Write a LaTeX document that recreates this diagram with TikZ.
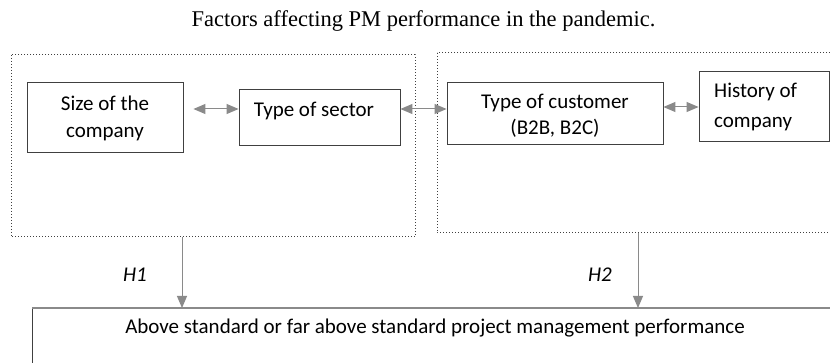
\documentclass[tikz,border=0pt]{standalone}
\usepackage{fontspec}
\setmainfont{Carlito}
\newfontfamily\titlefont{Liberation Serif}
\usetikzlibrary{arrows.meta}
\definecolor{boxline}{HTML}{404040}
\definecolor{arrgray}{HTML}{8A8A8A}
\tikzset{
  solidbox/.style={draw=boxline, line width=0.9pt, inner sep=0pt},
  groupbox/.style={draw=boxline, dotted, line width=1pt, inner sep=0pt},
  lbl/.style={font=\fontsize{21}{26}\selectfont, inner sep=0pt, align=center},
  conn/.style={draw=arrgray, line width=1pt, -{Triangle[length=12pt,width=10pt]}},
  bicon/.style={draw=arrgray, line width=1pt, {Triangle[length=12pt,width=10pt]}-{Triangle[length=12pt,width=10pt]}},
  hlbl/.style={font=\fontsize{21}{24}\selectfont\itshape, inner sep=0pt}
}
\begin{document}
\begin{tikzpicture}[x=1pt,y=-1pt]
\useasboundingbox (0,0) rectangle (830,363);
\clip (0,0) rectangle (830,363);
\fill[white] (0,0) rectangle (830,363);
% title
\node[font=\titlefont\fontsize{22.5}{26}\selectfont, inner sep=0pt, anchor=base] (title) at (423.5,27) {Factors affecting PM performance in the pandemic.};
% group boxes
\draw[groupbox] (11,55) rectangle (415,237);
\draw[groupbox] (437,53) rectangle (845,233);
\coordinate (g1b) at (182,237);
\coordinate (g2b) at (638,233);
% boxes
\node[solidbox, minimum width=156pt, minimum height=70pt] (size) at (105,117) {};
\node[lbl, font=\fontsize{21}{27}\selectfont] (sizet) at (105,118) {Size of the\\company};
\node[solidbox, minimum width=161pt, minimum height=56pt] (sector) at (319.5,117) {};
\node[lbl] (sectort) at (314,111) {Type of sector};
\node[solidbox, minimum width=216pt, minimum height=62pt] (cust) at (555,113) {};
\node[lbl] (custt) at (555,116) {Type of customer\\(B2B, B2C)};
\node[solidbox, minimum width=130pt, minimum height=70pt] (hist) at (764,106) {};
\node[lbl, align=left, anchor=west, font=\fontsize{21}{30}\selectfont] (histt) at (714,107) {History of\\company};
% bottom box
\draw[boxline, line width=0.9pt] (32,380) -- (32,308);
\draw[arrgray, line width=1.6pt] (32,308) -- (845,308);
\coordinate (perfH1) at (182,308);
\coordinate (perfH2) at (638,308);
\node[lbl] (perft) at (435,328) {Above standard or far above standard project management performance};
% connectors
\draw[bicon] ([xshift=10pt]size.east |- 0,109) -- (sector.west |- 0,109);
\draw[bicon] (sector.east |- 0,109) -- (cust.west |- 0,109);
\draw[bicon] (cust.east |- 0,107) -- (hist.west |- 0,107);
\draw[conn] (g1b) -- (perfH1);
\draw[conn] (g2b) -- (perfH2);
\node[hlbl] (h1) at (135,275) {H1};
\node[hlbl] (h2) at (600,275) {H2};
\end{tikzpicture}
\end{document}
